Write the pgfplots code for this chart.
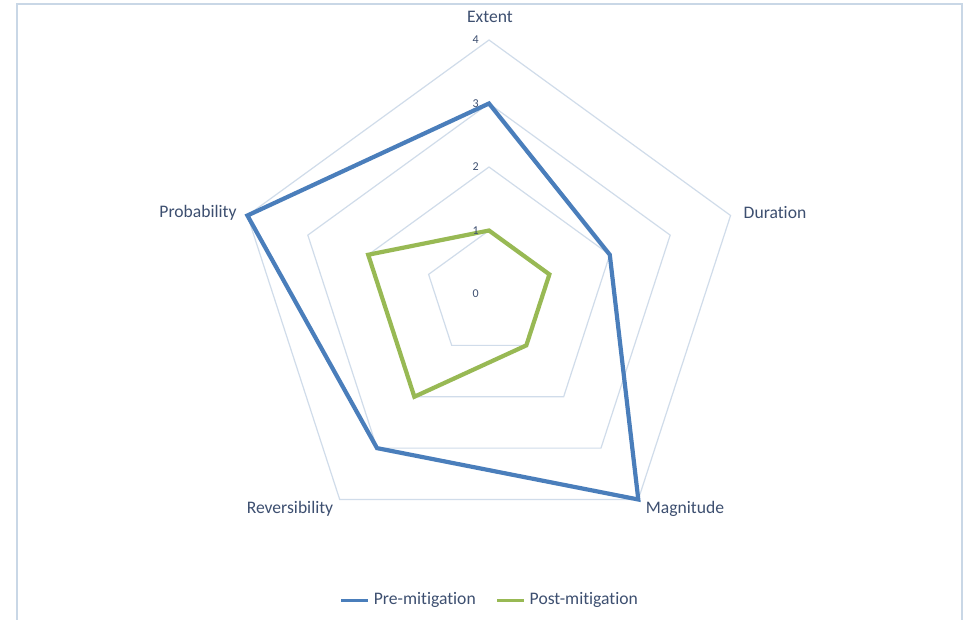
\documentclass[border=0pt]{standalone}
\usepackage{fontspec}
\setmainfont{Carlito}[Ligatures=NoCommon]
\usepackage{pgfplots}
\pgfplotsset{compat=1.18}

\definecolor{premit}{HTML}{4A7EBB}
\definecolor{postmit}{HTML}{98B954}
\definecolor{gridc}{HTML}{D0DCEA}
\definecolor{framec}{HTML}{C9D7E6}
\definecolor{labelc}{HTML}{3D4F70}

\newcommand{\catfont}{\fontsize{8.8}{10}\selectfont}
\newcommand{\tickfont}{\fontsize{6}{7}\selectfont}

\begin{document}
\begin{tikzpicture}
\useasboundingbox (-244.5pt,-163pt) rectangle (239.5pt,147pt);
\fill[white] (-244.5pt,-163pt) rectangle (239.5pt,147pt);
% chart frame (left, top and right edges)
\draw[framec, line width=0.7pt] (-236pt,-170pt) -- (-236pt,145pt) -- (236.5pt,145pt) -- (236.5pt,-170pt);

\begin{axis}[
  at={(0pt,0pt)}, anchor=origin,
  hide axis,
  x=31.75pt, y=31.75pt,
  xmin=-4, xmax=4, ymin=-4, ymax=4,
  clip=false,
  legend columns=2,
  legend style={at={(axis cs:0.03,-4.82)}, anchor=center, draw=none, fill=none,
    font=\catfont, text=labelc,
    /tikz/every even column/.append style={column sep=8pt}},
  legend image code/.code={\draw[#1, line width=1.5pt] (0pt,0pt) -- (13.5pt,0pt);},
]
% pentagonal grid at levels 1 to 4
\pgfplotsinvokeforeach{1,2,3,4}{
  \addplot[gridc, line width=0.6pt, data cs=polar, forget plot]
    coordinates {(90,#1) (18,#1) (-54,#1) (-126,#1) (162,#1) (90,#1) (18,#1)};
}

% Extent, Duration, Magnitude, Reversibility, Probability
\addplot[premit, line width=2.1pt, data cs=polar]
  coordinates {(90,3) (18,2) (-54,4) (-126,3) (162,4) (90,3) (18,2)};
\addlegendentry{Pre-mitigation}
\addplot[postmit, line width=2.1pt, data cs=polar]
  coordinates {(90,1) (18,1) (-54,1) (-126,2) (162,2) (90,1) (18,1)};
\addlegendentry{Post-mitigation}

% category labels
\node[text=labelc, font=\catfont] at (axis cs:0.016,4.362) {Extent};
\node[text=labelc, font=\catfont] at (axis cs:4.504,1.276) {Duration};
\node[text=labelc, font=\catfont] at (axis cs:3.087,-3.386) {Magnitude};
\node[text=labelc, font=\catfont] at (axis cs:-3.134,-3.386) {Reversibility};
\node[text=labelc, font=\catfont] at (axis cs:-4.583,1.276) {Probability};

% radial scale labels
\pgfplotsinvokeforeach{0,1,2,3,4}{
  \node[text=labelc, font=\tickfont] at (axis cs:-0.21,#1) {#1};
}
\end{axis}
\end{tikzpicture}
\end{document}
